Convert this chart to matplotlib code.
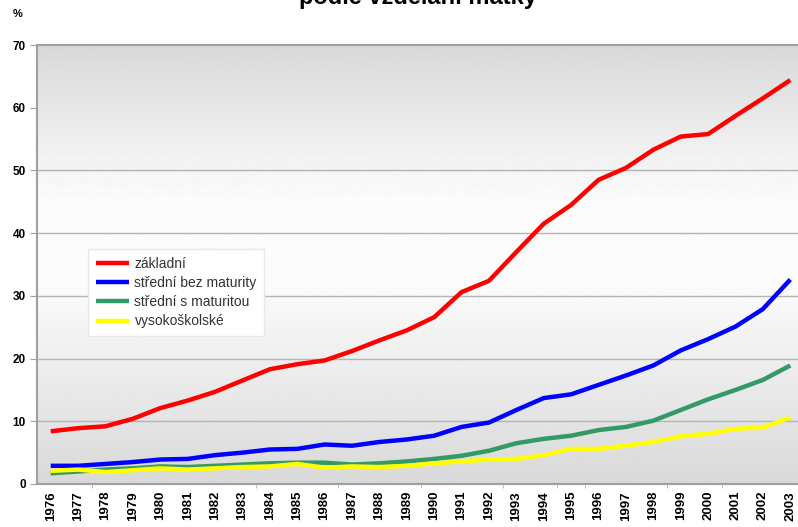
import matplotlib
matplotlib.use("Agg")
import matplotlib.pyplot as plt
import numpy as np

plt.rcParams['font.family'] = ['Liberation Sans', 'DejaVu Sans']

years = [str(y) for y in range(1976, 2004)]

zakladni = [8.4, 8.9, 9.2, 10.4, 12.1, 13.3, 14.7, 16.5, 18.3, 19.1, 19.7, 21.2, 22.9, 24.5,
            26.6, 30.6, 32.4, 37.0, 41.5, 44.5, 48.5, 50.4, 53.3, 55.4, 55.8, 58.7, 61.5, 64.4]
stredni_bez = [2.9, 2.9, 3.2, 3.5, 3.9, 4.0, 4.6, 5.0, 5.5, 5.6, 6.3, 6.1, 6.7, 7.1,
               7.7, 9.1, 9.8, 11.8, 13.7, 14.3, 15.8, 17.3, 18.9, 21.3, 23.1, 25.1, 27.9, 32.6]
stredni_s = [1.7, 2.0, 2.3, 2.5, 2.8, 2.7, 2.9, 3.1, 3.3, 3.4, 3.4, 3.1, 3.3, 3.6,
             4.0, 4.5, 5.3, 6.5, 7.2, 7.7, 8.6, 9.1, 10.1, 11.8, 13.5, 15.0, 16.6, 18.9]
vysokoskolske = [2.1, 2.3, 1.9, 2.2, 2.5, 2.3, 2.5, 2.7, 2.8, 3.2, 2.6, 2.8, 2.7, 2.9,
                 3.3, 3.6, 3.9, 4.0, 4.6, 5.6, 5.6, 6.1, 6.7, 7.6, 8.0, 8.8, 9.0, 10.6]

series = [
    ("základní", zakladni, "#ff0000"),
    ("střední bez maturity", stredni_bez, "#0000ff"),
    ("střední s maturitou", stredni_s, "#339966"),
    ("vysokoškolské", vysokoskolske, "#ffff00"),
]

fig = plt.figure(figsize=(7.98, 5.27), dpi=100)
ax = fig.add_axes([37 / 798, 43 / 527, 767 / 798, 439 / 527])

# background gradient: dark at top and bottom, light in the middle
g = np.linspace(0, 1, 256)
shade = np.interp(g, [0.0, 0.35, 0.55, 1.0], [0.85, 0.985, 0.985, 0.85])
ax.imshow(shade[:, None], cmap='gray', vmin=0, vmax=1, aspect='auto',
          extent=[0, 1, 0, 1], transform=ax.transAxes, zorder=0)

x = np.arange(len(years))
for label, vals, col in series:
    ax.plot(x, vals, color=col, lw=3.2, label=label, zorder=3, solid_capstyle='butt')

ax.set_xlim(-0.5, len(years) - 0.5)
ax.set_ylim(0, 70)
ax.set_yticks(range(0, 80, 10))
for v in range(10, 60, 10):
    ax.axhline(v, color='#b4b4b4', lw=1.0, zorder=1)

ax.set_xticks(x)
ax.set_xticklabels(years, rotation=90, fontsize=9.5, fontweight='bold')
ax.tick_params(axis='x', length=0, pad=5)
ax.set_xticks([k - 0.5 for k in [2, 8, 11, 14, 17, 19, 20, 23, 25]], minor=True)
ax.tick_params(axis='x', which='minor', length=3, color='#b4b4b4')
ax.tick_params(axis='y', length=5, color='#a0a0a0', labelsize=8.5, pad=3)
for t in ax.get_yticklabels():
    t.set_fontweight('bold')

for s in ['left', 'top', 'bottom']:
    ax.spines[s].set_color('#a0a0a0')
    ax.spines[s].set_linewidth(1.5)
ax.spines['right'].set_visible(False)

fig.text(18 / 798, 1 - 17 / 527, "%", fontsize=8, fontweight='bold', ha='center')
fig.text(418 / 798, 1 - 4 / 527, "podle vzdělání matky", fontsize=17,
         fontweight='bold', ha='center', va='baseline')

leg = ax.legend(loc='upper left', bbox_to_anchor=(44 / 767, (484 - 242) / 439),
                frameon=True, fontsize=10, handlelength=2.4, handletextpad=0.4,
                borderpad=0.55, labelspacing=0.38, fancybox=False, shadow=False)
leg.get_frame().set_facecolor('white')
leg.get_frame().set_edgecolor('#e8e8e8')
leg.get_frame().set_alpha(1)
for t in leg.get_texts():
    t.set_color('#333333')

fig.savefig("out.png", dpi=100)
